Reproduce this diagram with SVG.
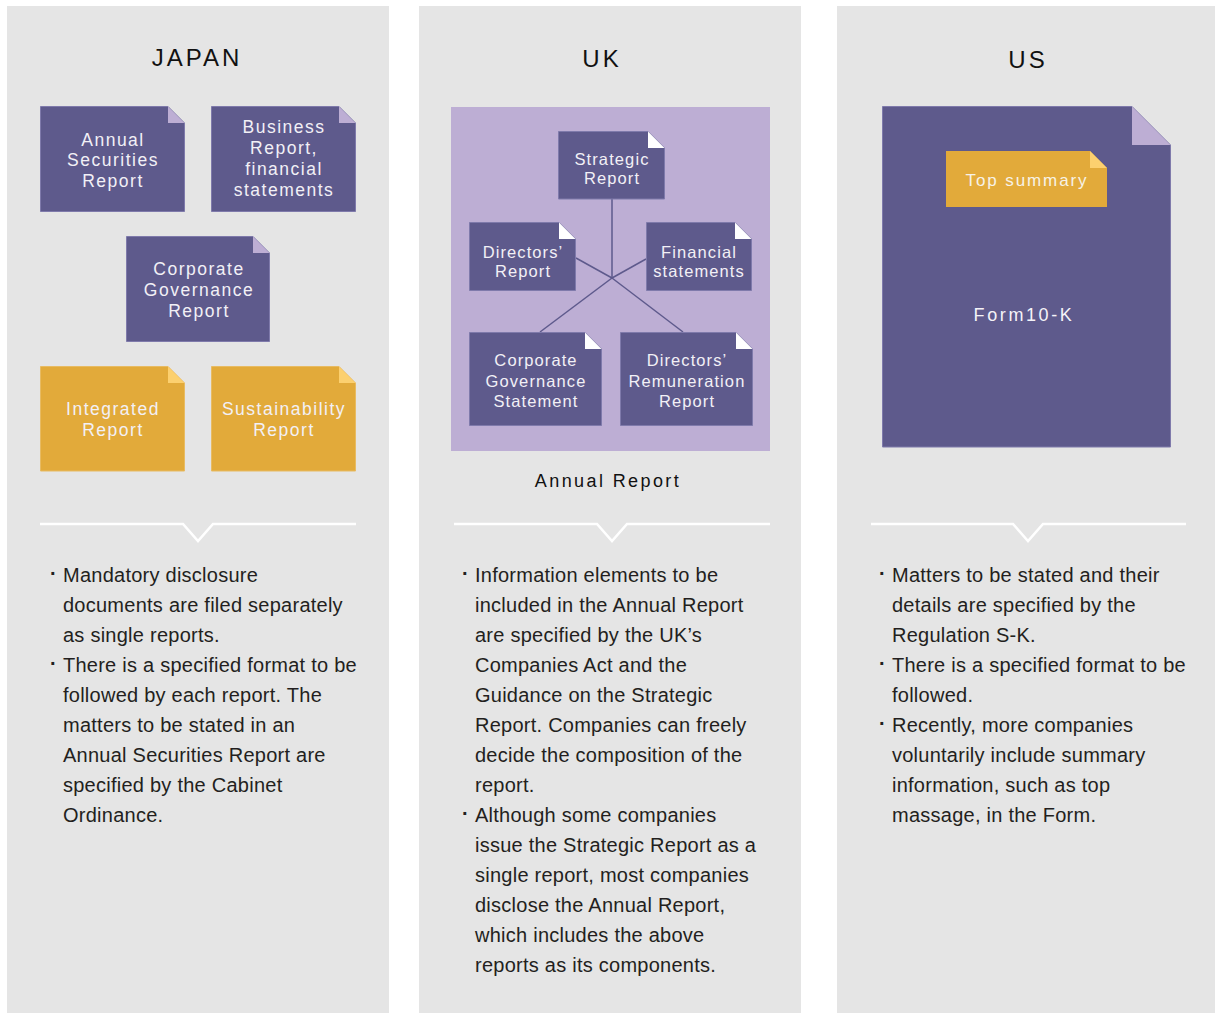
<svg xmlns="http://www.w3.org/2000/svg" width="1215" height="1013" viewBox="0 0 1215 1013">
<style>
.panel{fill:#e5e5e5}
.doc{fill:#5e5a8c;stroke:#7f7aab;stroke-width:1}
.docO{fill:#e2aa3a;stroke:#e8bb62;stroke-width:1}
.foldL{fill:#bdaed4}
.foldW{fill:#ffffff}
.foldO{fill:#fcd06f}
.hdr{font-family:"Liberation Sans",Arial,sans-serif;font-size:24px;letter-spacing:3px;fill:#111;text-anchor:middle}
.bt{font-family:"Liberation Sans",Arial,sans-serif;font-size:17.5px;letter-spacing:1.5px;fill:#f2f0f6;text-anchor:middle}
.bt2{font-family:"Liberation Sans",Arial,sans-serif;font-size:16.5px;letter-spacing:1.1px;fill:#f2f0f6;text-anchor:middle}
.body{font-family:"Liberation Sans",Arial,sans-serif;font-size:20px;letter-spacing:0.25px;fill:#231f20}
.dot{font-weight:bold}
.sep{fill:none;stroke:#ffffff;stroke-width:2.5}
.conn{stroke:#5e5a8c;stroke-width:1.5;fill:none}
</style>
<rect width="1215" height="1013" fill="#ffffff"/>
<rect class="panel" x="7" y="6" width="382" height="1007"/>
<rect class="panel" x="419" y="6" width="382" height="1007"/>
<rect class="panel" x="837" y="6" width="378" height="1007"/>

<text class="hdr" x="197" y="66">JAPAN</text>
<text class="hdr" x="602" y="67">UK</text>
<text class="hdr" x="1028" y="68">US</text>

<!-- JAPAN -->
<g id="jp-annual-securities">
<path class="doc" d="M40.5,106.5 H168 L184.5,123 V211.5 H40.5 Z"/>
<path class="foldL" d="M168,106.5 V123 H184.5 Z"/>
<text class="bt" x="113" y="146">Annual</text>
<text class="bt" x="113" y="166">Securities</text>
<text class="bt" x="113" y="187">Report</text>
</g>
<g id="jp-business-report">
<path class="doc" d="M211.5,106.5 H339 L355.5,123 V211.5 H211.5 Z"/>
<path class="foldL" d="M339,106.5 V123 H355.5 Z"/>
<text class="bt" x="284" y="133">Business</text>
<text class="bt" x="284" y="154">Report,</text>
<text class="bt" x="284" y="175">financial</text>
<text class="bt" x="284" y="196">statements</text>
</g>
<g id="jp-corp-gov">
<path class="doc" d="M126.5,236.5 H253 L269.5,253 V341.5 H126.5 Z"/>
<path class="foldL" d="M253,236.5 V253 H269.5 Z"/>
<text class="bt" x="199" y="275">Corporate</text>
<text class="bt" x="199" y="296">Governance</text>
<text class="bt" x="199" y="317">Report</text>
</g>
<g id="jp-integrated">
<path class="docO" d="M40.5,366.5 H168 L184.5,383 V471 H40.5 Z"/>
<path class="foldO" d="M168,366.5 V383 H184.5 Z"/>
<text class="bt" x="113" y="415">Integrated</text>
<text class="bt" x="113" y="436">Report</text>
</g>
<g id="jp-sustainability">
<path class="docO" d="M211.5,366.5 H339 L355.5,383 V471 H211.5 Z"/>
<path class="foldO" d="M339,366.5 V383 H355.5 Z"/>
<text class="bt" x="284" y="415">Sustainability</text>
<text class="bt" x="284" y="436">Report</text>
</g>

<!-- UK -->
<g id="uk-annual-report">
<rect x="451" y="107" width="319" height="344" fill="#bdaed4"/>
<text x="608" y="487" font-family="Liberation Sans, Arial, sans-serif" font-size="18" letter-spacing="2.4" fill="#111" text-anchor="middle">Annual Report</text>
</g>
<g id="connectors">
<line class="conn" x1="612" y1="199" x2="612" y2="278"/>
<line class="conn" x1="576" y1="258" x2="612" y2="278"/>
<line class="conn" x1="646" y1="259" x2="612" y2="278"/>
<line class="conn" x1="540" y1="332" x2="612" y2="278"/>
<line class="conn" x1="683" y1="332" x2="612" y2="278"/>
</g>
<g id="uk-strategic">
<path class="doc" d="M558.5,131.5 H648 L664.5,148 V199 H558.5 Z"/>
<path class="foldW" d="M648,131.5 V148 H664.5 Z"/>
<text class="bt2" x="612" y="165">Strategic</text>
<text class="bt2" x="612" y="184">Report</text>
</g>
<g id="uk-directors">
<path class="doc" d="M469.5,222.5 H559 L575.5,239 V290.5 H469.5 Z"/>
<path class="foldW" d="M559,222.5 V239 H575.5 Z"/>
<text class="bt2" x="523" y="258">Directors’</text>
<text class="bt2" x="523" y="277">Report</text>
</g>
<g id="uk-financial">
<path class="doc" d="M646.5,222.5 H735 L751.5,239 V290.5 H646.5 Z"/>
<path class="foldW" d="M735,222.5 V239 H751.5 Z"/>
<text class="bt2" x="699" y="258">Financial</text>
<text class="bt2" x="699" y="277">statements</text>
</g>
<g id="uk-corp-gov">
<path class="doc" d="M469.5,332.5 H585 L601.5,349 V425.5 H469.5 Z"/>
<path class="foldW" d="M585,332.5 V349 H601.5 Z"/>
<text class="bt2" x="536" y="366">Corporate</text>
<text class="bt2" x="536" y="387">Governance</text>
<text class="bt2" x="536" y="407">Statement</text>
</g>
<g id="uk-remuneration">
<path class="doc" d="M620.5,332.5 H736 L752.5,349 V425.5 H620.5 Z"/>
<path class="foldW" d="M736,332.5 V349 H752.5 Z"/>
<text class="bt2" x="687" y="366">Directors’</text>
<text class="bt2" x="687" y="387">Remuneration</text>
<text class="bt2" x="687" y="407">Report</text>
</g>

<!-- US -->
<g id="us-form10k">
<path class="doc" d="M882.5,106.5 H1132 L1170.5,145 V447 H882.5 Z"/>
<path class="foldL" d="M1132,106.5 V145 H1170.5 Z"/>
<text x="1024" y="321" font-family="Liberation Sans, Arial, sans-serif" font-size="18" letter-spacing="2.6" fill="#f5f3f8" text-anchor="middle">Form10-K</text>
</g>
<g id="us-top-summary">
<path fill="#e2aa3a" d="M946,151 H1090 L1107,168 V207 H946 Z"/>
<path class="foldO" d="M1090,151 V168 H1107 Z"/>
<text x="1027" y="186" font-family="Liberation Sans, Arial, sans-serif" font-size="17" letter-spacing="1.9" fill="#f7f2e6" text-anchor="middle">Top summary</text>
</g>

<!-- separators -->
<path class="sep" d="M40,524 H183 L198,541 L213,524 H356"/>
<path class="sep" d="M454,524 H597 L612,541 L627,524 H770"/>
<path class="sep" d="M871,524 H1013 L1028,541 L1043,524 H1186"/>

<!-- body texts -->
<g class="body">
<text class="dot" x="50" y="580">·</text>
<text x="63" y="582">Mandatory disclosure</text>
<text x="63" y="612">documents are filed separately</text>
<text x="63" y="642">as single reports.</text>
<text class="dot" x="50" y="670">·</text>
<text x="63" y="672">There is a specified format to be</text>
<text x="63" y="702">followed by each report. The</text>
<text x="63" y="732">matters to be stated in an</text>
<text x="63" y="762">Annual Securities Report are</text>
<text x="63" y="792">specified by the Cabinet</text>
<text x="63" y="822">Ordinance.</text>

<text class="dot" x="462" y="580">·</text>
<text x="475" y="582">Information elements to be</text>
<text x="475" y="612">included in the Annual Report</text>
<text x="475" y="642">are specified by the UK’s</text>
<text x="475" y="672">Companies Act and the</text>
<text x="475" y="702">Guidance on the Strategic</text>
<text x="475" y="732">Report. Companies can freely</text>
<text x="475" y="762">decide the composition of the</text>
<text x="475" y="792">report.</text>
<text class="dot" x="462" y="820">·</text>
<text x="475" y="822">Although some companies</text>
<text x="475" y="852">issue the Strategic Report as a</text>
<text x="475" y="882">single report, most companies</text>
<text x="475" y="912">disclose the Annual Report,</text>
<text x="475" y="942">which includes the above</text>
<text x="475" y="972">reports as its components.</text>

<text class="dot" x="879" y="580">·</text>
<text x="892" y="582">Matters to be stated and their</text>
<text x="892" y="612">details are specified by the</text>
<text x="892" y="642">Regulation S-K.</text>
<text class="dot" x="879" y="670">·</text>
<text x="892" y="672">There is a specified format to be</text>
<text x="892" y="702">followed.</text>
<text class="dot" x="879" y="730">·</text>
<text x="892" y="732">Recently, more companies</text>
<text x="892" y="762">voluntarily include summary</text>
<text x="892" y="792">information, such as top</text>
<text x="892" y="822">massage, in the Form.</text>
</g>
</svg>
